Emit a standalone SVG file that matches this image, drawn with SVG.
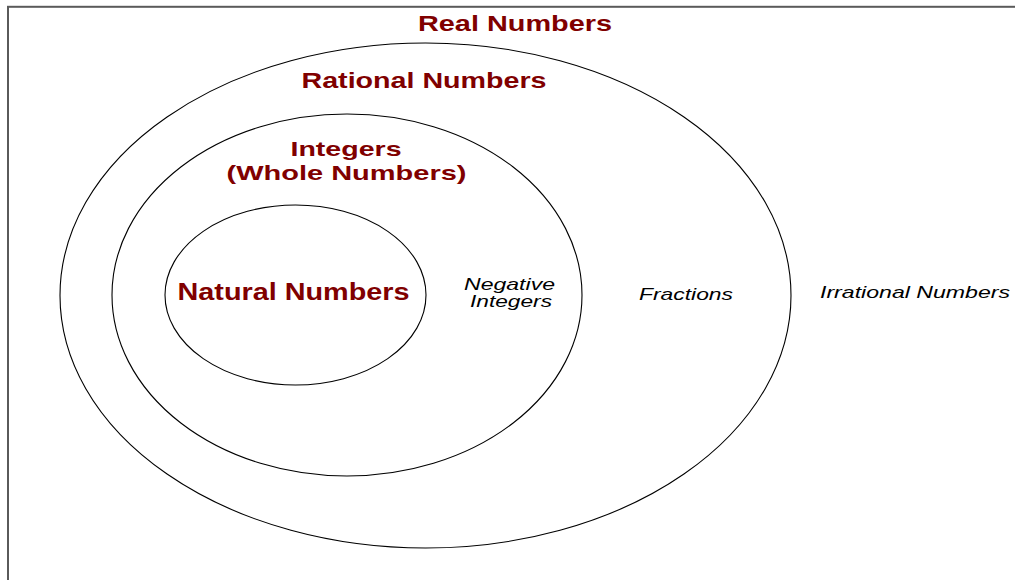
<svg xmlns="http://www.w3.org/2000/svg" width="1015" height="580" viewBox="0 0 1015 580">
  <style>
    .set { fill: none; stroke: #000; stroke-width: 1.1; }
    .title { font-family: "Liberation Sans", Arial, sans-serif; font-weight: bold; fill: #800000; }
    .note { font-family: "Liberation Sans", Arial, sans-serif; font-style: italic; fill: #000; }
  </style>
  <rect width="1015" height="580" fill="#fff"/>
  <!-- frame, open to the right and bottom -->
  <rect x="8" y="6.8" width="1100" height="700" fill="none" stroke="#5a5a5a" stroke-width="2"/>

  <g id="real-numbers">
    <text class="title" x="418" y="31" font-size="21.5" textLength="194" lengthAdjust="spacingAndGlyphs">Real Numbers</text>
    <text class="note" x="820" y="297.5" font-size="16.5" textLength="190" lengthAdjust="spacingAndGlyphs">Irrational Numbers</text>
  </g>

  <g id="rational-numbers">
    <ellipse class="set" cx="425.5" cy="295.5" rx="365.5" ry="252.5"/>
    <text class="title" x="301.5" y="87.5" font-size="21.5" textLength="245" lengthAdjust="spacingAndGlyphs">Rational Numbers</text>
    <text class="note" x="639" y="299.5" font-size="16.5" textLength="94" lengthAdjust="spacingAndGlyphs">Fractions</text>
  </g>

  <g id="integers">
    <ellipse class="set" cx="347" cy="295" rx="235" ry="181"/>
    <text class="title" x="290.5" y="156" font-size="20.5" textLength="111" lengthAdjust="spacingAndGlyphs">Integers</text>
    <text class="title" x="226.5" y="180" font-size="20.5" textLength="240" lengthAdjust="spacingAndGlyphs">(Whole Numbers)</text>
    <text class="note" x="464" y="290" font-size="16.5" textLength="91" lengthAdjust="spacingAndGlyphs">Negative</text>
    <text class="note" x="470" y="306.5" font-size="16.5" textLength="82" lengthAdjust="spacingAndGlyphs">Integers</text>
  </g>

  <g id="natural-numbers">
    <ellipse class="set" cx="295.5" cy="295" rx="130.5" ry="90"/>
    <text class="title" x="177.5" y="300" font-size="23.5" textLength="232" lengthAdjust="spacingAndGlyphs">Natural Numbers</text>
  </g>

  <g id="connectors"/>
</svg>
